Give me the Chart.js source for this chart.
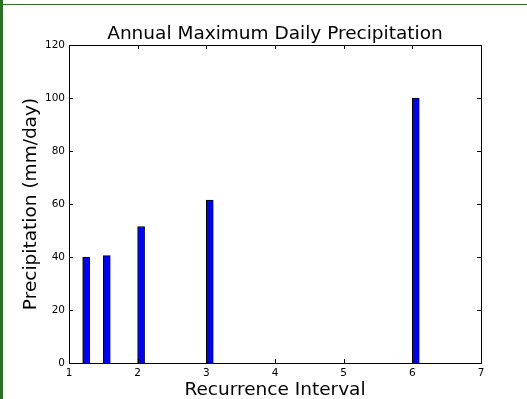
<!DOCTYPE html>
<html>
<head>
<meta charset="utf-8">
<script src="https://cdn.jsdelivr.net/npm/chart.js@4"></script>
<style>
  html, body { margin: 0; padding: 0; background: #fff; }
  #wrap { position: relative; width: 527px; height: 399px; overflow: hidden; }
  #left-bar { position: absolute; left: 0; top: 0; width: 3px; height: 399px; background: #336b29; }
  #top-line { position: absolute; left: 0; top: 4px; width: 527px; height: 1px; background: #336b29; }
  canvas { position: absolute; left: 0; top: 0; }
</style>
</head>
<body>
<div id="wrap">
  <canvas id="chart" width="527" height="399"></canvas>
  <div id="left-bar"></div>
  <div id="top-line"></div>
</div>
<script>
// recurrence intervals (bar left edges) and annual max daily precipitation
const intervals = [1.2, 1.5, 2, 3, 6];
const precip = [40, 40.5, 51.5, 61.5, 100];
const barWidth = 0.1;

const xTicks = [1, 2, 3, 4, 5, 6, 7];
const yTicks = [0, 20, 40, 60, 80, 100, 120];

const TITLE = 'Annual Maximum Daily Precipitation';
const FONT = 'DejaVu Sans';

// matplotlib style frame with inward ticks on all sides, title centred over axes
const framePlugin = {
  id: 'frame',
  afterDraw(chart) {
    const { ctx, chartArea: a, scales } = chart;
    ctx.save();
    ctx.strokeStyle = '#000';
    ctx.lineWidth = 1;
    ctx.strokeRect(Math.round(a.left) + 0.5, Math.round(a.top) + 0.5,
      Math.round(a.right - a.left), Math.round(a.bottom - a.top));
    ctx.beginPath();
    xTicks.forEach(v => {
      const px = Math.round(scales.x.getPixelForValue(v)) + 0.5;
      ctx.moveTo(px, a.bottom); ctx.lineTo(px, a.bottom - 4);
      ctx.moveTo(px, a.top); ctx.lineTo(px, a.top + 4);
    });
    yTicks.forEach(v => {
      const py = Math.round(scales.y.getPixelForValue(v)) + 0.5;
      ctx.moveTo(a.left, py); ctx.lineTo(a.left + 4, py);
      ctx.moveTo(a.right, py); ctx.lineTo(a.right - 4, py);
    });
    ctx.stroke();

    ctx.fillStyle = '#000';
    ctx.font = '18.5px "' + FONT + '"';
    ctx.textAlign = 'center';
    ctx.textBaseline = 'alphabetic';
    ctx.fillText(TITLE, (a.left + a.right) / 2, a.top - 6);
    ctx.restore();
  }
};

new Chart(document.getElementById('chart'), {
  type: 'bar',
  data: {
    datasets: [{
      data: intervals.map((x, i) => ({ x: x + barWidth / 2, y: precip[i] })),
      backgroundColor: '#0000ff',
      borderColor: '#000',
      borderWidth: 1,
      barThickness: 7
    }]
  },
  options: {
    responsive: false,
    animation: false,
    layout: { padding: { left: 0, right: 46, top: 45, bottom: 0 } },
    plugins: {
      legend: { display: false },
      tooltip: { enabled: false },
      title: { display: false }
    },
    scales: {
      x: {
        type: 'linear',
        min: 1,
        max: 7,
        offset: false,
        afterFit(s) { s.height = 36; },
        afterBuildTicks(s) { s.ticks = xTicks.map(v => ({ value: v })); },
        grid: { display: false, drawTicks: false, offset: false },
        border: { display: false },
        ticks: {
          color: '#000',
          padding: 4,
          font: { family: FONT, size: 10.5 }
        },
        title: {
          display: true,
          text: 'Recurrence Interval',
          color: '#000',
          font: { family: FONT, size: 18.5, lineHeight: 1 },
          padding: { top: 0, bottom: 0 }
        }
      },
      y: {
        min: 0,
        max: 120,
        afterFit(s) { s.width = 69; },
        afterBuildTicks(s) { s.ticks = yTicks.map(v => ({ value: v })); },
        grid: { display: false, drawTicks: false },
        border: { display: false },
        ticks: {
          color: '#000',
          padding: 4,
          font: { family: FONT, size: 10.5 }
        },
        title: {
          display: true,
          text: 'Precipitation (mm/day)',
          color: '#000',
          font: { family: FONT, size: 18.5, lineHeight: 1.2 },
          padding: { top: 20, bottom: 0 }
        }
      }
    }
  },
  plugins: [framePlugin]
});
</script>
</body>
</html>
